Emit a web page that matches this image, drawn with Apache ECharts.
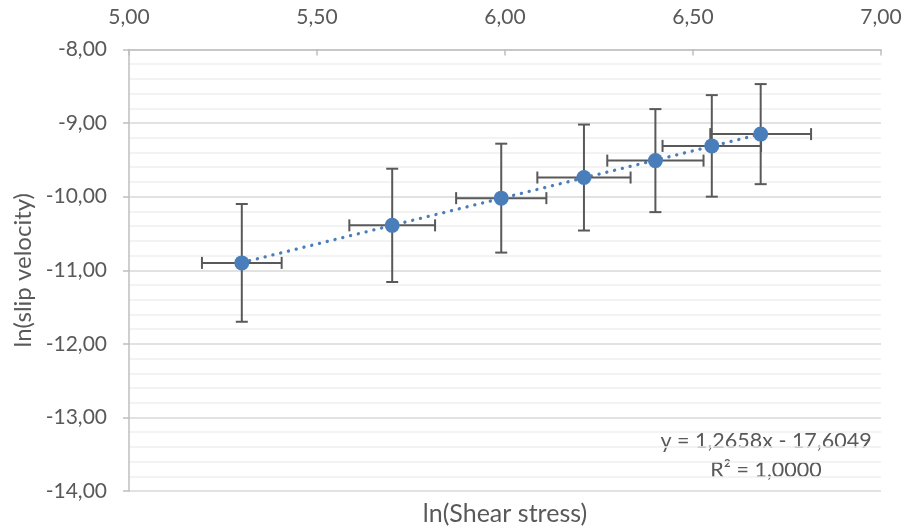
<!DOCTYPE html>
<html>
<head>
<meta charset="utf-8">
<script src="https://cdn.jsdelivr.net/npm/echarts@6/dist/echarts.min.js"></script>
<style>
  html, body { margin: 0; padding: 0; background: #ffffff; }
  #chart { width: 904px; height: 531px; }
</style>
</head>
<body>
<div id="chart"></div>
<script>
// ln(shear stress) and ln(slip velocity) for each measurement
const lnShearStress = [5.30, 5.70, 5.99, 6.21, 6.40, 6.55, 6.68];
const lnSlipVelocity = [-10.90, -10.39, -10.02, -9.74, -9.51, -9.31, -9.15];
// error bar half-widths
const xErrors = [0.106, 0.114, 0.120, 0.124, 0.128, 0.131, 0.134];
const yErrors = [0.80, 0.77, 0.74, 0.72, 0.70, 0.69, 0.68];
// linear trendline
const trendSlope = 1.2658;
const trendIntercept = -17.6049;
const trendR2 = 1.0;

const FONT = 'Lato';
const TEXT = '#595959';
const fmt = (v, d) => v.toFixed(d).replace('.', ',');

const points = lnShearStress.map((x, i) => [x, lnSlipVelocity[i]]);
const errData = lnShearStress.map((x, i) => [x, lnSlipVelocity[i], xErrors[i], yErrors[i]]);
const xFirst = lnShearStress[0];
const xLast = lnShearStress[lnShearStress.length - 1];
const trendPoints = [
  [xFirst, trendSlope * xFirst + trendIntercept],
  [xLast, trendSlope * xLast + trendIntercept]
];

const chart = echarts.init(document.getElementById('chart'), null, { renderer: 'canvas' });

function renderErrorBars(params, api) {
  const x = api.value(0), y = api.value(1), ex = api.value(2), ey = api.value(3);
  const top = api.coord([x, y + ey]);
  const bottom = api.coord([x, y - ey]);
  const left = api.coord([x - ex, y]);
  const right = api.coord([x + ex, y]);
  const cap = 6;
  const style = { stroke: '#595959', lineWidth: 2 };
  const line = (x1, y1, x2, y2) => ({ type: 'line', shape: { x1, y1, x2, y2 }, style });
  return {
    type: 'group',
    children: [
      line(top[0], top[1], bottom[0], bottom[1]),
      line(top[0] - cap, top[1], top[0] + cap, top[1]),
      line(bottom[0] - cap, bottom[1], bottom[0] + cap, bottom[1]),
      line(left[0], left[1], right[0], right[1]),
      line(left[0], left[1] - cap, left[0], left[1] + cap),
      line(right[0], right[1] - cap, right[0], right[1] + cap)
    ]
  };
}

chart.setOption({
  animation: false,
  backgroundColor: '#ffffff',
  textStyle: { fontFamily: FONT },
  grid: { left: 129, right: 23, top: 49.5, bottom: 40, outerBoundsMode: 'none' },
  xAxis: {
    type: 'value',
    position: 'top',
    min: 5, max: 7, interval: 0.5,
    name: 'ln(Shear stress)',
    nameLocation: 'middle',
    nameGap: -477,
    nameTextStyle: { color: TEXT, fontSize: 25, fontFamily: FONT },
    axisLine: { show: true, onZero: false, lineStyle: { color: '#bfbfbf', width: 1.5 } },
    axisTick: { show: true, inside: true, length: 6, lineStyle: { color: '#bfbfbf', width: 1.5 } },
    axisLabel: { color: TEXT, fontSize: 21, fontFamily: FONT, margin: 22, formatter: v => fmt(v, 2) },
    splitLine: { show: false }
  },
  yAxis: {
    type: 'value',
    min: -14, max: -8, interval: 1,
    name: 'ln(slip velocity)',
    nameLocation: 'middle',
    nameGap: 94,
    nameRotate: 90,
    nameTextStyle: { color: TEXT, fontSize: 24, fontFamily: FONT },
    axisLine: { show: true, onZero: false, lineStyle: { color: '#bfbfbf', width: 1.5 } },
    axisTick: { show: true, length: 6, lineStyle: { color: '#bfbfbf', width: 1.5 } },
    axisLabel: { color: TEXT, fontSize: 21, fontFamily: FONT, margin: 22, formatter: v => fmt(v, 2) },
    splitLine: { show: true, lineStyle: { color: '#d9d9d9', width: 1.5 } },
    minorTick: { show: false, splitNumber: 5 },
    minorSplitLine: { show: true, lineStyle: { color: '#f0f0f0', width: 1.5 } }
  },
  graphic: [
    {
      type: 'text', x: 766, y: 456,
      style: {
        text: 'y = ' + fmt(trendSlope, 4) + 'x - ' + fmt(-trendIntercept, 4) + '\nR² = ' + fmt(trendR2, 4),
        fill: TEXT, font: '21.5px ' + FONT, align: 'center', verticalAlign: 'middle', lineHeight: 29
      }
    }
  ],
  series: [
    {
      type: 'line',
      data: trendPoints,
      symbol: 'none',
      z: 1,
      lineStyle: { color: '#4a7ebb', width: 3.3, type: [0.1, 7.9], cap: 'round' }
    },
    {
      type: 'custom',
      data: errData,
      renderItem: renderErrorBars,
      encode: { x: 0, y: 1 },
      z: 2
    },
    {
      type: 'scatter',
      data: points,
      symbol: 'circle',
      symbolSize: 15,
      z: 3,
      itemStyle: { color: '#4a7ebb', opacity: 1 }
    }
  ]
});
</script>
</body>
</html>
